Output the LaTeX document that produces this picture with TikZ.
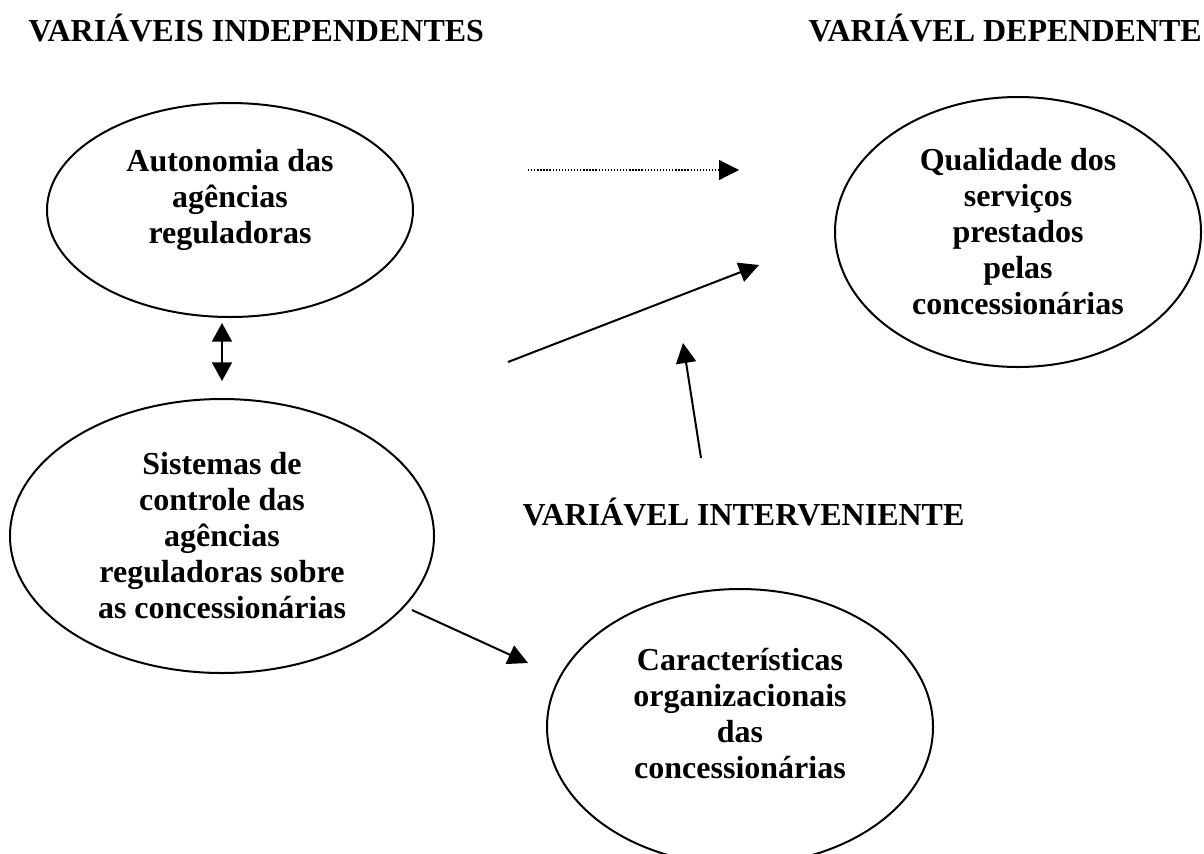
\documentclass[tikz,border=0pt]{standalone}
\usepackage{fontspec}
\setmainfont{Liberation Serif}
\usetikzlibrary{shapes, arrows.meta, positioning, calc}

% profundidade extra na ultima linha (sobe o texto dentro da elipse)
\newcommand{\ajuste}{\rule[-10pt]{0pt}{0pt}}

\begin{document}
\begin{tikzpicture}[
        x=0.375pt, y=-0.375pt, % 1 unidade = 1 pixel da figura original
        variavel/.style={ellipse, draw, line width=0.75pt, inner sep=0pt, align=center, font=\fontsize{12}{13.5}\selectfont\bfseries},
        titulo/.style={inner sep=0pt, anchor=base west, font=\fontsize{12}{13.5}\selectfont\bfseries},
        seta/.style={-{Triangle[length=7.5pt, width=7.5pt]}, line width=0.75pt},
        pontilhada/.style={-{Triangle[length=7.5pt, width=7.5pt]}, line width=0.45pt, dash pattern=on 0.5pt off 0.65pt}
        ]
        \useasboundingbox (0,0) rectangle (1204,853);
        \clip (0,0) rectangle (1204,853);

        % Titulos
        \node[titulo] (tind) at (28, 42) {VARIÁVEIS INDEPENDENTES};
        \node[titulo] (tdep) at (808, 42) {VARIÁVEL DEPENDENTE};
        \node[titulo] (tint) at (522, 525) {VARIÁVEL INTERVENIENTE};

        % Variaveis
        \node[variavel, minimum width=137.25pt, minimum height=80.25pt] (auto) at (230, 210) {Autonomia das\\agências\\reguladoras\ajuste};
        \node[variavel, minimum width=137.25pt, minimum height=101.25pt] (qual) at (1018, 232) {Qualidade dos\\serviços\\prestados\\pelas\\concessionárias};
        \node[variavel, minimum width=159pt, minimum height=102.75pt] (sist) at (222, 536) {Sistemas de\\controle das\\agências\\reguladoras sobre\\as concessionárias};
        \node[variavel, minimum width=144.75pt, minimum height=103.5pt] (carac) at (740, 727) {Características\\organizacionais\\das\\concessionárias\ajuste};

        % Pontas das setas
        \coordinate (d1) at (528, 170);
        \coordinate (d2) at (739, 170);
        \coordinate (r1) at (508, 362);
        \coordinate (r2) at (759, 265);
        \coordinate (u1) at (701, 458);
        \coordinate (u2) at (683, 343);
        \coordinate (s1) at (412, 610);
        \coordinate (s2) at (528, 663);
        \coordinate (b1) at (222, 323);
        \coordinate (b2) at (222, 381);

        % Setas
        \draw[pontilhada] (d1) -- (d2);
        \draw[seta] (r1) -- (r2);
        \draw[seta] (u1) -- (u2);
        \draw[seta] (s1) -- (s2);
        \draw[seta, {Triangle[length=7pt, width=7.5pt]}-{Triangle[length=7pt, width=7.5pt]}] (b1) -- (b2);

    \end{tikzpicture}
\end{document}
